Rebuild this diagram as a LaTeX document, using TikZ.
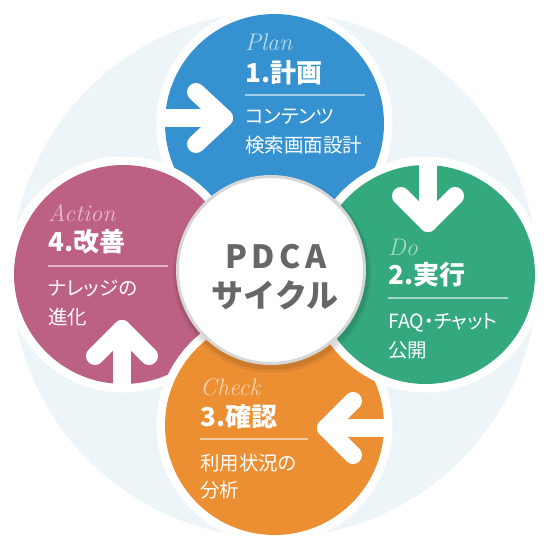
\documentclass[tikz,border=0pt]{standalone}
\usepackage{fontspec}
\setmainfont{Noto Sans CJK JP}
\newfontfamily\jpp{Noto Sans CJK JP}[RawFeature=+palt]
\newfontfamily\hand{Latin Modern Roman}
\definecolor{bgc}{HTML}{EDF5F9}
\definecolor{cblue}{HTML}{3591D0}
\definecolor{cgreen}{HTML}{35A97E}
\definecolor{corange}{HTML}{EB8F32}
\definecolor{cpink}{HTML}{BD6184}
\definecolor{ctext}{HTML}{676767}
\definecolor{lblue}{HTML}{B9DAF1}
\definecolor{lgreen}{HTML}{A6DAC4}
\definecolor{lorange}{HTML}{F8D2AC}
\definecolor{lpink}{HTML}{E8BACB}
\begin{document}
\begin{tikzpicture}[x=1pt,y=-1pt,
  arr/.style={white,line width=18pt,line cap=round,line join=round},
  en/.style={anchor=west,font=\hand\itshape\fontsize{24}{24}\selectfont,inner sep=0pt},
  ttl/.style={anchor=west,text=white,font=\jpp\bfseries\fontsize{26}{26}\selectfont,inner sep=0pt},
  body/.style={anchor=west,text=white,font=\jpp\fontsize{19.5}{19.5}\selectfont,inner sep=0pt},
  sep/.style={white,opacity=0.55,line width=1.3pt},
  ctr/.style={text=ctext,font=\bfseries\fontsize{32}{32}\selectfont,inner sep=0pt}]
\useasboundingbox (0,0) rectangle (550,550);
\fill[bgc] (274.5,274.5) circle[radius=263pt];
% coloured circles
\foreach \c/\x/\y in {cblue/274.5/123.5, cpink/123.5/274.5, corange/274.5/425.5, cgreen/425.5/274.5}{
  \fill[white] (\x,\y) circle[radius=118pt];
  \fill[\c] (\x,\y) circle[radius=109.5pt];
}
% arrows
\begin{scope}
  \clip (274.5,123.5) circle[radius=117pt];
  \draw[arr] (140,118) -- (224,118);
\end{scope}
\draw[arr] (196,92) -- (224,118) -- (196,144);
\begin{scope}
  \clip (425.5,274.5) circle[radius=117pt];
  \draw[arr] (428,140) -- (428,223);
\end{scope}
\draw[arr] (401,196) -- (428,223) -- (455,196);
\begin{scope}
  \clip (274.5,425.5) circle[radius=117pt];
  \draw[arr] (410,428) -- (326,428);
\end{scope}
\draw[arr] (353,401) -- (326,428) -- (353,455);
\begin{scope}
  \clip (123.5,274.5) circle[radius=117pt];
  \draw[arr] (122,410) -- (122,329);
\end{scope}
\draw[arr] (95,356) -- (122,329) -- (149,356);
% centre circle
\fill[black,opacity=0.06] (272,274) circle[radius=99pt];
\fill[black,opacity=0.08] (272,273) circle[radius=97pt];
\fill[white,draw=black!16,line width=3pt] (271,270) circle[radius=93.5pt];
\node[ctr] (pdca) at (276,257) {P\kern4.5pt D\kern4.5pt C\kern4.5pt A};
\node[ctr] (cycle) at (275,295) {サイクル};
% Plan
\node[en,text=lblue] (plan) at (245,42) {Plan};
\node[ttl] (t1) at (245,73) {1.計画};
\draw[sep] (245,95) -- (365,95);
\node[body] (b1a) at (245,117) {コンテンツ};
\node[body] (b1b) at (245,145) {検索画面設計};
% Do
\node[en,text=lgreen] (do) at (388,247) {Do};
\node[ttl] (t2) at (388,275) {2.実行};
\draw[sep] (388,298) -- (508,298);
\node[body] (b2a) at (388,323) {FAQ・チャット};
\node[body] (b2b) at (388,350) {公開};
% Check
\node[en,text=lorange] (check) at (200,387) {Check};
\node[ttl] (t3) at (200,417) {3.確認};
\draw[sep] (200,439) -- (308,439);
\node[body] (b3a) at (200,463) {利用状況の};
\node[body] (b3b) at (200,490) {分析};
% Action
\node[en,text=lpink] (act) at (48,213) {Action};
\node[ttl] (t4) at (48,242) {4.改善};
\draw[sep] (48,266) -- (168,266);
\node[body] (b4a) at (48,288) {ナレッジの};
\node[body] (b4b) at (48,317) {進化};
\end{tikzpicture}
\end{document}
